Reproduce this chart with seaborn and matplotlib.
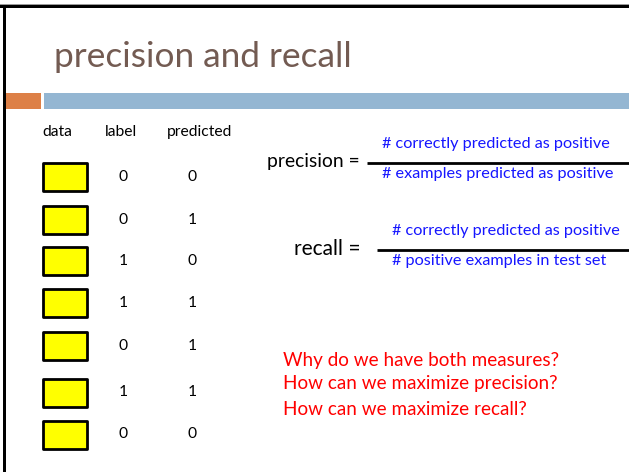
import matplotlib
matplotlib.use("Agg")
import matplotlib.pyplot as plt
import seaborn as sns
import pandas as pd
from matplotlib.patches import Rectangle
from matplotlib.path import Path

# ---- data ----
title = "precision and recall"
headers = ["data", "label", "predicted"]
labels = [0, 0, 1, 1, 0, 1, 0]
predicted = [0, 1, 0, 1, 1, 1, 0]
precision_num = "# correctly predicted as positive"
precision_den = "# examples predicted as positive"
recall_num = "# correctly predicted as positive"
recall_den = "# positive examples in test set"
questions = ["Why do we have both measures?",
             "How can we maximize precision?",
             "How can we maximize recall?"]

# ---- layout (pixels) ----
row_y = [177, 219.5, 261, 303, 345.5, 392.5, 434.5]

sns.set_theme(style="white")
FONT = ["Lato", "DejaVu Sans"]
plt.rcParams["font.family"] = FONT

W, H = 629, 472
fig = plt.figure(figsize=(W / 100, H / 100), dpi=100)
ax = fig.add_axes([0, 0, 1, 1])
ax.set_xlim(0, W)
ax.set_ylim(H, 0)
ax.axis("off")
renderer = fig.canvas.get_renderer()


def fit_text(x, y, s, width, ha="left", va="baseline", **kw):
    t = ax.text(x, y, s, fontsize=10, ha=ha, va=va, **kw)
    bb = t.get_window_extent(renderer)
    t.set_fontsize(10 * width / bb.width)
    return t


def fit_size(s, width):
    t = ax.text(0, 0, s, fontsize=10)
    bb = t.get_window_extent(renderer)
    t.remove()
    return 10 * width / bb.width


# frame
ax.add_patch(Rectangle((0, 3.5), W, 1, color="#9a9a9a", lw=0))
ax.add_patch(Rectangle((0, 4.8), W, 2.8, color="black", lw=0))
ax.add_patch(Rectangle((3.2, 4.8), 2.8, H, color="black", lw=0))

# header bars
ax.add_patch(Rectangle((6, 93), 35, 15.5, color="#DD8047", lw=0))
ax.add_patch(Rectangle((44, 93), W - 44, 15.5, color="#94B6D2", lw=0))

# title
fit_text(54, 67, title, 298, color="#735B52")

# table headers
hsize = fit_size("predicted", 66)
for h, xc in zip(headers, [57, 121, 200]):
    ax.text(xc, 136, h, fontsize=hsize, ha="center", va="baseline", color="black")

# yellow boxes via seaborn scatter with rectangular marker
df = pd.DataFrame({"x": [65] * len(labels), "y": row_y, "label": labels, "pred": predicted})
rect = Path([(-1, -0.62), (1, -0.62), (1, 0.62), (-1, 0.62), (-1, -0.62)],
            [Path.MOVETO, Path.LINETO, Path.LINETO, Path.LINETO, Path.CLOSEPOLY])
sns.scatterplot(data=df, x="x", y="y", ax=ax, marker=rect, s=(44 * 0.72) ** 2,
                color="#FFFF00", edgecolor="black", linewidth=2.0, legend=False, zorder=3)
ax.set_xlim(0, W)
ax.set_ylim(H, 0)
ax.axis("off")

# label / predicted numbers
for lab, pr, yc in zip(labels, predicted, row_y):
    ax.text(123, yc, str(lab), fontsize=hsize, ha="center", va="center", color="black")
    ax.text(192, yc, str(pr), fontsize=hsize, ha="center", va="center", color="black")

# formulas
blue = "#1515FF"
fsize = fit_size(precision_den, 232)
fit_text(267, 167, "precision =", 93, color="black")
ax.text(382, 148, precision_num, fontsize=fsize, color=blue, va="baseline")
ax.text(382, 178, precision_den, fontsize=fsize, color=blue, va="baseline")
ax.plot([367, W], [163, 163], color="black", lw=2.0, solid_capstyle="butt")

fit_text(294, 255, "recall =", 66, color="black")
ax.text(392, 235, recall_num, fontsize=fsize, color=blue, va="baseline")
ax.text(392, 265, recall_den, fontsize=fsize, color=blue, va="baseline")
ax.plot([377, W], [250, 250], color="black", lw=2.0, solid_capstyle="butt")

# questions
qsize = fit_size(questions[0], 275)
for q, yb in zip(questions, [366, 389, 415]):
    ax.text(283, yb, q, fontsize=qsize, color="#FF0000", va="baseline")

fig.savefig("out.png", dpi=100)
